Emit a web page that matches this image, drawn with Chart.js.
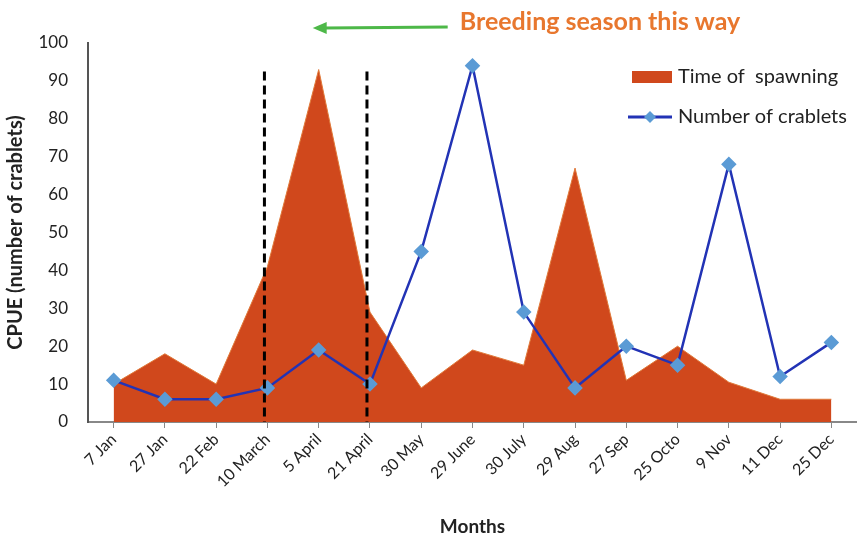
<!DOCTYPE html>
<html>
<head>
<meta charset="utf-8">
<script src="https://cdn.jsdelivr.net/npm/chart.js@4"></script>
<style>
  html, body { margin: 0; padding: 0; background: #fff; }
  #wrap { width: 857px; height: 538px; position: relative; }
</style>
</head>
<body>
<div id="wrap"><canvas id="myChart" width="857" height="538"></canvas></div>
<script>
// sampling dates
var months = ['7 Jan', '27 Jan', '22 Feb', '10 March', '5 April', '21 April', '30 May', '29 June',
    '30 July', '29 Aug', '27 Sep', '25 Octo', '9 Nov', '11 Dec', '25 Dec'];
// CPUE values
var spawning = [10, 18, 10, 41, 93, 29, 9, 19, 15, 67, 11, 20, 10.5, 6, 6];
var crablets = [11, 6, 6, 9, 19, 10, 45, 94, 29, 9, 20, 15, 68, 12, 21];
var yTicks = [0, 10, 20, 30, 40, 50, 60, 70, 80, 90, 100];
// breeding season markers (dashed lines), just left of these dates
var seasonBounds = ['10 March', '21 April'];
var seasonTop = 92.5;

var FONT = 'Lato, "Open Sans", sans-serif';

var overlay = {
    id: 'overlay',
    afterDatasetsDraw: function (chart) {
        var c = chart.ctx, x = chart.scales.x, y = chart.scales.y;
        c.save();
        // dashed season lines
        c.strokeStyle = '#000';
        c.lineWidth = 3;
        c.setLineDash([9, 5]);
        seasonBounds.forEach(function (m) {
            var px = x.getPixelForValue(months.indexOf(m)) - 3;
            c.beginPath();
            c.moveTo(px, y.getPixelForValue(seasonTop));
            c.lineTo(px, y.getPixelForValue(0));
            c.stroke();
        });
        c.setLineDash([]);
        // arrow + caption
        var head = x.getPixelForValue(months.indexOf('5 April')) - 6;
        var tail = head + 135, ay = 28;
        c.strokeStyle = '#4DB848';
        c.fillStyle = '#4DB848';
        c.lineWidth = 3;
        c.beginPath();
        c.moveTo(tail, ay - 1);
        c.lineTo(head + 12, ay);
        c.stroke();
        c.beginPath();
        c.moveTo(head, ay);
        c.lineTo(head + 14, ay - 6);
        c.lineTo(head + 14, ay + 6);
        c.closePath();
        c.fill();
        c.fillStyle = '#E8772E';
        c.font = 'bold 25px ' + FONT;
        c.textBaseline = 'middle';
        c.fillText('Breeding season this way', tail + 12, 22);
        // legend
        var lx = 632, l1 = 77, l2 = 117;
        c.fillStyle = '#D0481C';
        c.fillRect(lx, l1 - 6, 40, 12);
        c.strokeStyle = '#2233B5';
        c.lineWidth = 3;
        c.beginPath();
        c.moveTo(lx - 4, l2);
        c.lineTo(lx + 40, l2);
        c.stroke();
        c.fillStyle = '#5B9BD5';
        c.beginPath();
        c.moveTo(lx + 18, l2 - 6);
        c.lineTo(lx + 24, l2);
        c.lineTo(lx + 18, l2 + 6);
        c.lineTo(lx + 12, l2);
        c.closePath();
        c.fill();
        c.fillStyle = '#222';
        c.font = '20px ' + FONT;
        c.fillText('Time of  spawning', lx + 46, l1);
        c.fillText('Number of crablets', lx + 46, l2);
        c.restore();
    }
};

var ctx = document.getElementById('myChart').getContext('2d');
var myChart = new Chart(ctx, {
    type: 'line',
    data: {
        labels: months,
        datasets: [{
            label: 'Number of crablets',
            data: crablets,
            borderColor: '#2233B5',
            borderWidth: 2.5,
            pointStyle: 'rectRot',
            pointRadius: 6,
            pointBackgroundColor: '#5B9BD5',
            pointBorderColor: '#5B9BD5',
            tension: 0,
            fill: false,
            order: 0
        }, {
            label: 'Time of  spawning',
            data: spawning,
            borderColor: '#E07A3A',
            borderWidth: 1,
            backgroundColor: '#D0481C',
            pointRadius: 0,
            tension: 0,
            fill: 'origin',
            order: 1
        }]
    },
    plugins: [overlay],
    options: {
        responsive: false,
        animation: false,
        layout: { autoPadding: false, padding: { top: 43, right: 0, bottom: 0, left: 4 } },
        plugins: {
            legend: { display: false },
            tooltip: { enabled: false }
        },
        scales: {
            x: {
                offset: true,
                grid: { display: true, drawOnChartArea: false, drawTicks: true, tickLength: 6, offset: false, color: '#888' },
                border: { display: true, color: '#888', width: 2 },
                ticks: {
                    autoSkip: false, maxRotation: 45, minRotation: 45,
                    color: '#222', font: { family: FONT, size: 16 }, padding: 2
                },
                title: { display: true, text: 'Months', color: '#222', font: { family: FONT, size: 19, weight: 'bold' }, padding: 0 },
                afterFit: function (s) { s.height = 116; s.paddingRight = 0; s.paddingLeft = 0; }
            },
            y: {
                min: 0, max: 100,
                afterBuildTicks: function (s) { s.ticks = yTicks.map(function (v) { return { value: v }; }); },
                grid: { display: false },
                border: { display: true, color: '#555', width: 2 },
                ticks: { color: '#222', font: { family: FONT, size: 17 }, padding: 12 },
                title: { display: true, text: 'CPUE (number of crablets)', color: '#222', font: { family: FONT, size: 20, weight: 'bold' }, padding: 0 },
                afterFit: function (s) { s.width = 84; }
            }
        }
    }
});
</script>
</body>
</html>
